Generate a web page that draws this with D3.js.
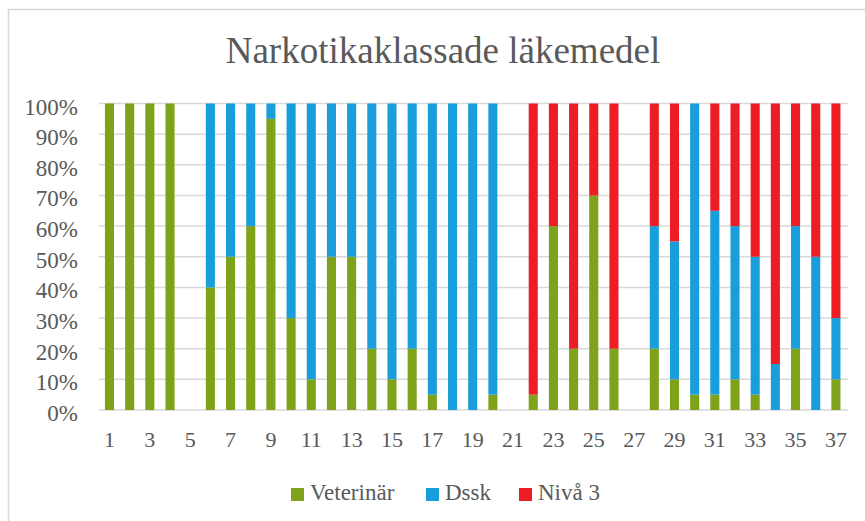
<!DOCTYPE html>
<html>
<head>
<meta charset="utf-8">
<script src="https://cdn.jsdelivr.net/npm/d3@7"></script>
<style>
  body { margin: 0; background: #fff; }
  svg text { font-family: 'Liberation Serif', 'DejaVu Serif', 'Times New Roman', Times, serif; fill: #595959; }
</style>
</head>
<body>
<div id="chart"></div>
<script>
// categories 1..37
var categories = [];
for (let i = 1; i <= 37; i++) {
    categories.push(i);
}

// share per category (0..1)
var veterinar = [1, 1, 1, 1, 0, 0.40, 0.50, 0.60, 0.95, 0.30, 0.10, 0.50, 0.50, 0.20, 0.10, 0.20, 0.05, 0, 0, 0.05,
    0, 0.05, 0.60, 0.20, 0.70, 0.20, 0, 0.20, 0.10, 0.05, 0.05, 0.10, 0.05, 0, 0.20, 0, 0.10];
var dssk = [0, 0, 0, 0, 0, 0.60, 0.50, 0.40, 0.05, 0.70, 0.90, 0.50, 0.50, 0.80, 0.90, 0.80, 0.95, 1, 1, 0.95,
    0, 0, 0, 0, 0, 0, 0, 0.40, 0.45, 0.95, 0.60, 0.50, 0.45, 0.15, 0.40, 0.50, 0.20];
var niva3 = [0, 0, 0, 0, 0, 0, 0, 0, 0, 0, 0, 0, 0, 0, 0, 0, 0, 0, 0, 0,
    0, 0.95, 0.40, 0.80, 0.30, 0.80, 0, 0.40, 0.45, 0, 0.35, 0.40, 0.50, 0.85, 0.40, 0.50, 0.70];

var yTicks = [0, 0.1, 0.2, 0.3, 0.4, 0.5, 0.6, 0.7, 0.8, 0.9, 1];
var seriesNames = ["Veterinär", "Dssk", "Nivå 3"];
var colors = ["#7fa21b", "#1a9edb", "#ee1c25"];

var width = 865, height = 521;
var serif = "Liberation Serif, DejaVu Serif, serif";

var svg = d3.select("#chart")
    .append("svg")
    .attr("width", width)
    .attr("height", height)
    .attr("font-family", serif);

// chart area border
svg.append("rect")
    .attr("x", 8.5)
    .attr("y", 9.5)
    .attr("width", 900)
    .attr("height", 600)
    .attr("fill", "none")
    .attr("stroke", "#d9d9d9")
    .attr("stroke-width", 1.5);

svg.append("text")
    .attr("x", 443)
    .attr("y", 63)
    .attr("text-anchor", "middle")
    .attr("font-family", serif)
    .style("font-size", "37px")
    .text("Narkotikaklassade läkemedel");

var x = d3.scaleBand().domain(categories).range([99.4, 846]).paddingInner(0.55).paddingOuter(0.275);
var y = d3.scaleLinear().domain([0, 1]).range([410, 103.5]);

// gridlines
svg.append("g")
    .selectAll("line")
    .data(yTicks)
    .enter()
    .append("line")
    .attr("x1", 99)
    .attr("x2", 848)
    .attr("y1", d => y(d))
    .attr("y2", d => y(d))
    .attr("stroke", "#d9d9d9")
    .attr("stroke-width", 1.5);

// y labels
svg.append("g")
    .selectAll("text")
    .data(yTicks)
    .enter()
    .append("text")
    .attr("x", 78)
    .attr("y", d => y(d) + 11)
    .attr("text-anchor", "end")
    .attr("font-family", serif)
    .style("font-size", "23px")
    .text(d3.format(".0%"));

// x labels (odd only)
svg.append("g")
    .selectAll("text")
    .data(categories.filter(d => d % 2 === 1))
    .enter()
    .append("text")
    .attr("x", d => x(d) + x.bandwidth() / 2)
    .attr("y", 447)
    .attr("text-anchor", "middle")
    .attr("font-family", serif)
    .style("font-size", "22px")
    .text(d => d);

// stacked bars
var table = categories.map((c, i) => ({
    cat: c,
    "Veterinär": veterinar[i],
    "Dssk": dssk[i],
    "Nivå 3": niva3[i]
}));
var stacked = d3.stack().keys(seriesNames)(table);

svg.append("g")
    .selectAll("g")
    .data(stacked)
    .enter()
    .append("g")
    .attr("fill", (d, i) => colors[i])
    .selectAll("rect")
    .data(d => d.filter(p => p[1] - p[0] > 0))
    .enter()
    .append("rect")
    .attr("x", d => x(d.data.cat))
    .attr("width", x.bandwidth())
    .attr("y", d => y(d[1]))
    .attr("height", d => y(d[0]) - y(d[1]));

// legend
var legendX = [291, 426, 519];
var lg = svg.append("g")
    .selectAll("g")
    .data(seriesNames)
    .enter()
    .append("g")
    .attr("transform", (d, i) => "translate(" + legendX[i] + ",0)");
lg.append("rect")
    .attr("x", 0)
    .attr("y", 488)
    .attr("width", 13)
    .attr("height", 13)
    .attr("fill", (d, i) => colors[i]);
lg.append("text")
    .attr("x", 19)
    .attr("y", 500)
    .attr("font-family", serif)
    .style("font-size", "23px")
    .text(d => d);
</script>
</body>
</html>
